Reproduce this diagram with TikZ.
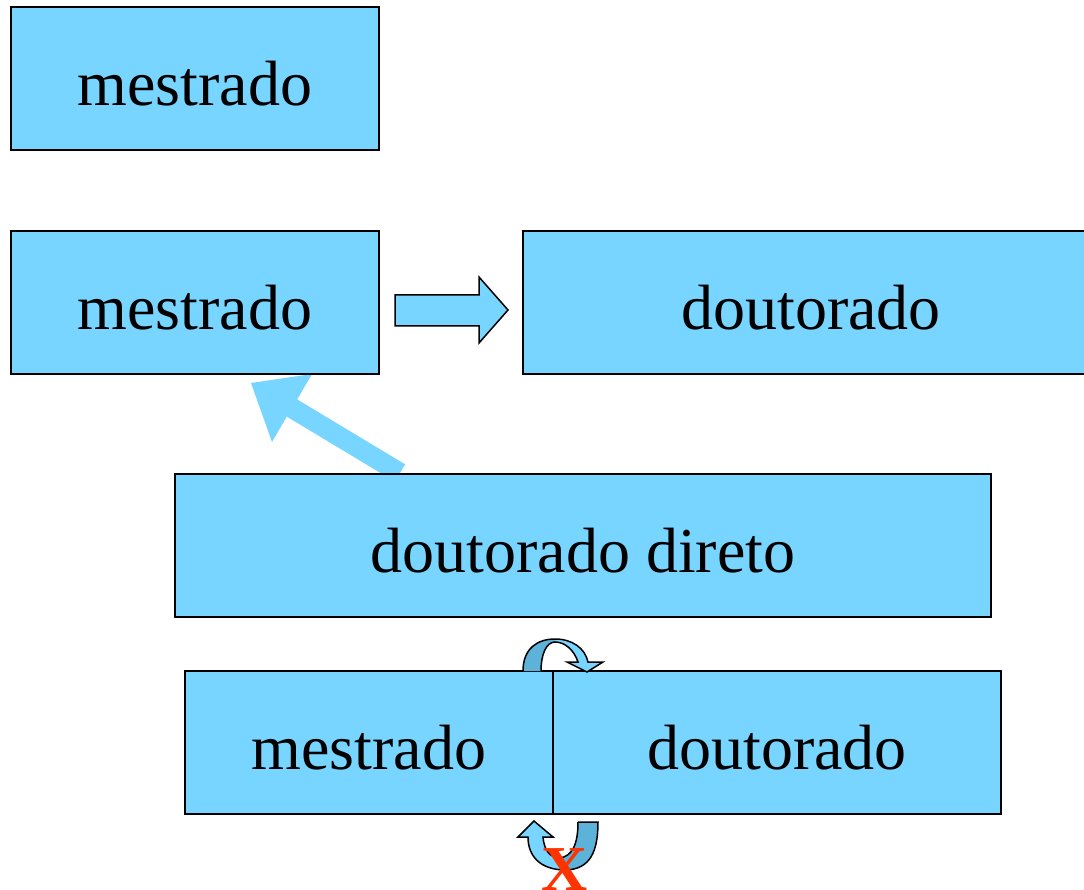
\documentclass[tikz,border=0pt]{standalone}
\usepackage{fontspec}
\setmainfont{Liberation Serif}
\definecolor{boxblue}{RGB}{119,213,255}
\definecolor{darkblue}{RGB}{92,178,216}
\definecolor{xred}{RGB}{255,51,0}
\begin{document}
\begin{tikzpicture}[x=1pt,y=-1pt,
  box/.style={draw=black,line width=1.8pt,fill=boxblue,inner sep=0pt},
  lbl/.style={font=\fontsize{64}{70}\selectfont,inner sep=0pt},
  shapeline/.style={draw=black,line width=1.5pt,line join=miter}]
\useasboundingbox (0,0) rectangle (1084,890);
\begin{scope}
\clip (0,0) rectangle (1084,890);
% big arrow from doutorado direto to mestrado
\coordinate (arrstart) at (400,473);
\coordinate (arrtip) at (251,383);
\fill[boxblue] (405.2,464.4) -- (297.2,399.4) -- (312,374) -- (arrtip) -- (272,442) -- (286.8,416.6) -- (394.8,481.6) -- cycle;
% boxes
\node[box,minimum width=368pt,minimum height=143pt] (m1) at (195,78.5) {};
\node[lbl] (m1t) at (195,84) {mestrado};
\node[box,minimum width=368pt,minimum height=143pt] (m2) at (195,302.5) {};
\node[lbl] (m2t) at (195,308) {mestrado};
\node[box,minimum width=576pt,minimum height=143pt] (d1) at (811,302.5) {};
\node[lbl] (d1t) at (811,308) {doutorado};
\node[box,minimum width=816pt,minimum height=143pt] (dd) at (583,545.5) {};
\node[lbl] (ddt) at (583,551) {doutorado direto};
\node[box,minimum width=368pt,minimum height=143pt] (m3) at (369,742.5) {};
\node[lbl] (m3t) at (369,748) {mestrado};
\node[box,minimum width=448pt,minimum height=143pt] (d3) at (777,742.5) {};
\node[lbl] (d3t) at (777,748) {doutorado};
% block arrow
\filldraw[shapeline,fill=boxblue] (395,295) -- (479,295) -- (479,277) -- (508,310) -- (479,343) -- (479,326) -- (395,326) -- cycle;
% top curved arrow
\fill[darkblue] (523,671) .. controls (523,648) and (538,639) .. (555,639) -- (555,642) .. controls (546,642) and (541,655) .. (541,671) -- cycle;
\fill[boxblue] (555,639) .. controls (572,639) and (585,648) .. (588,662) -- (603,662) -- (587,672) -- (567,662) -- (578,662) .. controls (574,650) and (565,642) .. (555,642) -- cycle;
\draw[shapeline] (523,671) .. controls (523,648) and (538,639) .. (555,639) .. controls (572,639) and (585,648) .. (588,662) -- (603,662) -- (587,672) -- (567,662) -- (578,662) .. controls (574,650) and (565,642) .. (555,642) .. controls (546,642) and (541,655) .. (541,671);
% bottom curved arrow
\filldraw[shapeline,fill=darkblue] (578,822) -- (598,822) .. controls (598,852) and (590,869) .. (566,870) -- (560,858) .. controls (572,856) and (578,845) .. (578,822);
\filldraw[shapeline,fill=boxblue] (566,870) .. controls (540,870) and (528,856) .. (528,837) -- (518,837) -- (534,821) -- (553,837) -- (543,837) .. controls (544,850) and (550,858) .. (560,858);
% red X
\node[text=xred,font=\fontsize{64}{70}\selectfont\bfseries,inner sep=0pt,anchor=base] (x) at (565,890) {X};
\end{scope}
\end{tikzpicture}
\end{document}
